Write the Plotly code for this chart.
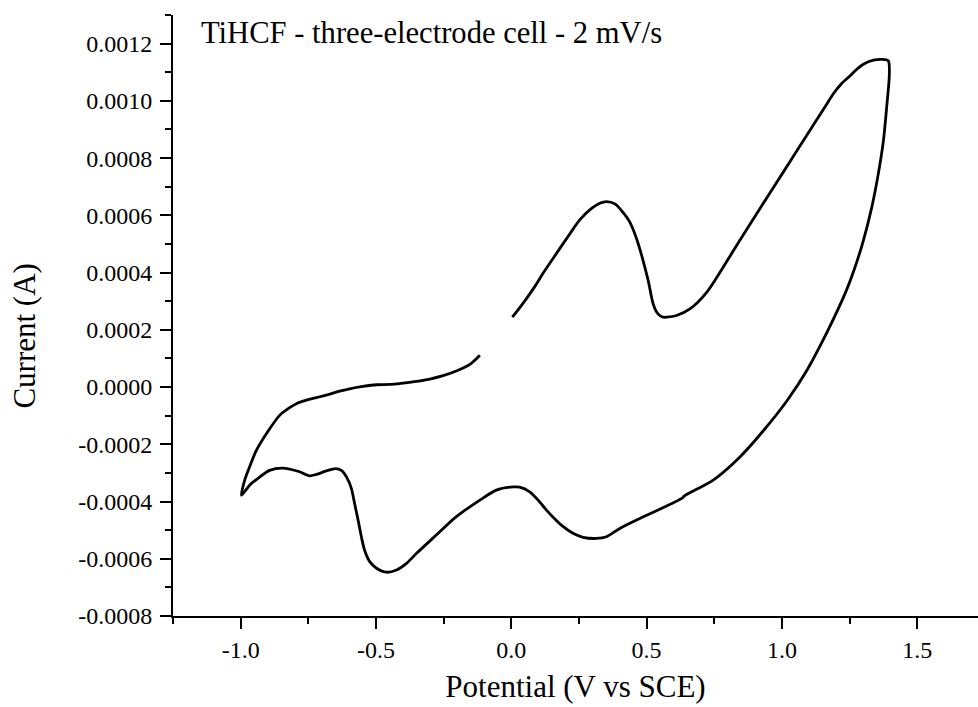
import plotly.graph_objects as go

# Cyclic voltammogram: starts at 0.0 V, anodic sweep to 1.4 V, back to -1.0 V, then up to -0.12 V
potential = [
    # anodic sweep 0.0 -> 1.4 V
    0.004, 0.044, 0.081, 0.124, 0.167, 0.216, 0.253, 0.290, 0.327, 0.352, 0.383, 0.413, 0.438,
    0.463, 0.487, 0.506, 0.524, 0.537, 0.549, 0.561, 0.574, 0.611, 0.660, 0.722, 0.783, 0.850,
    0.919, 1.005, 1.067, 1.128, 1.160, 1.190, 1.220, 1.251, 1.280, 1.301, 1.338, 1.369, 1.393,
    # cathodic sweep 1.4 -> -1.0 V
    1.397, 1.387, 1.375, 1.356, 1.332, 1.301, 1.266, 1.238, 1.170, 1.092, 1.020, 0.933, 0.845,
    0.746, 0.640, 0.630, 0.500, 0.401, 0.352, 0.315, 0.265, 0.228, 0.192, 0.161, 0.130, 0.099,
    0.068, 0.031, 0.007, -0.055, -0.116, -0.203, -0.277, -0.350, -0.387, -0.424, -0.461, -0.498,
    -0.523, -0.542, -0.554, -0.566, -0.579, -0.591, -0.609, -0.628, -0.649, -0.683, -0.720,
    -0.745, -0.782, -0.844, -0.893, -0.936, -0.967, -0.997,
    # anodic sweep -1.0 -> -0.12 V
    -0.985, -0.967, -0.942, -0.905, -0.856, -0.819, -0.794, -0.757, -0.720, -0.671, -0.634,
    -0.597, -0.548, -0.498, -0.449, -0.400, -0.350, -0.301, -0.252, -0.203, -0.153, -0.116,
]
current_e4 = [
    2.44, 2.93, 3.43, 4.07, 4.67, 5.35, 5.84, 6.19, 6.42, 6.48, 6.40, 6.10, 5.76,
    5.18, 4.42, 3.72, 2.91, 2.62, 2.50, 2.44, 2.44, 2.50, 2.73, 3.31, 4.19, 5.21,
    6.24, 7.51, 8.43, 9.33, 9.80, 10.25, 10.60, 10.87, 11.13, 11.28, 11.42, 11.45, 11.40,
    10.93, 9.77, 8.60, 7.44, 6.28, 5.12, 4.07, 3.37, 1.98, 0.58, -0.46, -1.51, -2.44,
    -3.25, -3.80, -3.89, -4.48, -4.94, -5.23, -5.29, -5.25, -5.11, -4.88, -4.61, -4.30, -3.95,
    -3.66, -3.50, -3.49, -3.60, -3.95, -4.53, -5.17, -5.81, -6.16, -6.39, -6.47, -6.33,
    -6.10, -5.70, -5.23, -4.65, -4.07, -3.54, -3.14, -2.91, -2.85, -2.93, -3.05,
    -3.10, -2.96, -2.83, -2.91, -3.19, -3.43, -3.78,
    -3.25, -2.79, -2.21, -1.63, -0.99, -0.72, -0.58, -0.46, -0.37, -0.25, -0.14,
    -0.06, 0.02, 0.08, 0.09, 0.14, 0.20, 0.28, 0.40, 0.56, 0.79, 1.11,
]
current = [v * 1e-4 for v in current_e4]

x_ticks = [-1.0, -0.5, 0.0, 0.5, 1.0, 1.5]
y_ticks = [-0.0008, -0.0006, -0.0004, -0.0002, 0.0, 0.0002, 0.0004, 0.0006, 0.0008, 0.0010, 0.0012]

title_text = "TiHCF - three-electrode cell - 2 mV/s"
x_title = "Potential (V vs SCE)"
y_title = "Current (A)"

FONT = "Liberation Serif"

fig = go.Figure()
fig.add_trace(go.Scatter(
    x=potential, y=current, mode="lines",
    line=dict(color="black", width=2.8, shape="spline", smoothing=0.8),
    showlegend=False, hoverinfo="skip",
))

fig.update_layout(
    width=978, height=707,
    margin=dict(l=173, r=0, t=15, b=91),
    paper_bgcolor="white", plot_bgcolor="white",
    font=dict(family=FONT, color="black", size=24),
    showlegend=False,
)

fig.update_xaxes(
    range=[-1.25, 1.7246],
    tickvals=x_ticks, ticktext=[f"{v:.1f}" for v in x_ticks],
    showgrid=False, zeroline=False,
    showline=True, linecolor="black", linewidth=2,
    ticks="outside", ticklen=11, tickwidth=2, tickcolor="black",
    tickfont=dict(family=FONT, size=24),
    minor=dict(dtick=0.25, tick0=0, ticks="outside", ticklen=6, tickwidth=2, tickcolor="black", showgrid=False),
    title=dict(text=x_title, font=dict(family=FONT, size=31), standoff=14),
)
fig.update_yaxes(
    range=[-0.0008, 0.0013],
    tickvals=y_ticks, ticktext=[f"{v:.4f}" for v in y_ticks],
    showgrid=False, zeroline=False,
    showline=True, linecolor="black", linewidth=2,
    ticks="outside", ticklen=11, tickwidth=2, tickcolor="black",
    tickfont=dict(family=FONT, size=24), ticklabelstandoff=3,
    minor=dict(dtick=0.0001, tick0=0, ticks="outside", ticklen=6, tickwidth=2, tickcolor="black", showgrid=False),
)

fig.add_annotation(
    text=y_title, xref="paper", yref="paper", x=-0.185, y=0.465,
    textangle=-90, showarrow=False, xanchor="center", yanchor="middle",
    font=dict(family=FONT, size=31, color="black"),
)
fig.add_annotation(
    text=title_text, xref="paper", yref="paper", x=0.032, y=0.97,
    showarrow=False, xanchor="left", yanchor="middle",
    font=dict(family=FONT, size=30.6, color="black"),
)

fig.write_html("out.html")
